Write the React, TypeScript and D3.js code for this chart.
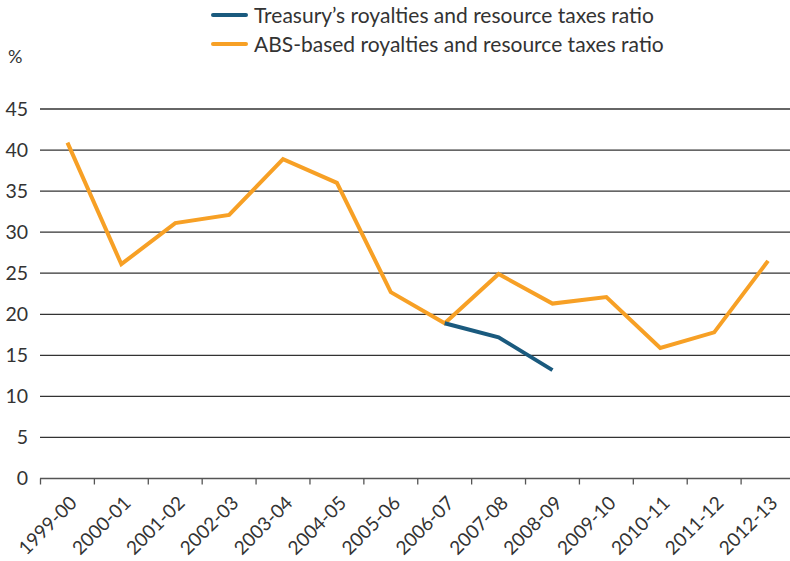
import React, { useEffect, useRef } from "react"
import * as d3 from "d3"

const years = ["1999-00", "2000-01", "2001-02", "2002-03", "2003-04", "2004-05", "2005-06",
    "2006-07", "2007-08", "2008-09", "2009-10", "2010-11", "2011-12", "2012-13"]
const absRatio = [40.9, 26.1, 31.1, 32.1, 38.9, 36.0, 22.7, 18.9, 24.9, 21.3, 22.1, 15.9, 17.8, 26.5]
const treasuryYears = ["2006-07", "2007-08", "2008-09"]
const treasuryRatio = [18.9, 17.2, 13.2]
const yTicks = [0, 5, 10, 15, 20, 25, 30, 35, 40, 45]

const ORANGE = "#F7A025"
const BLUE = "#1A5A7E"

export default function App() {
    const ref = useRef<SVGSVGElement>(null)

    useEffect(() => {
        const svg = d3.select(ref.current)
        svg.selectAll("*").remove()
        const font = "Lato, 'Open Sans', sans-serif"

        const x = d3.scaleBand().domain(years).range([40.5, 795])
        const y = d3.scaleLinear().domain([0, 45]).range([478.5, 109])
        const cx = (d: string) => (x(d) as number) + x.bandwidth() / 2

        // gridlines
        svg.append("g").selectAll("line")
            .data(yTicks.filter(t => t > 0))
            .enter().append("line")
            .attr("x1", 40).attr("x2", 790)
            .attr("y1", d => y(d)).attr("y2", d => y(d))
            .attr("stroke", "#333").attr("stroke-width", 1.3)

        // y labels
        svg.append("g").selectAll("text")
            .data(yTicks)
            .enter().append("text")
            .attr("x", 28).attr("y", d => y(d))
            .attr("dy", "0.35em")
            .attr("text-anchor", "end")
            .attr("font-family", font).attr("font-size", 19.5)
            .attr("fill", "#333")
            .text(d => d)

        svg.append("text")
            .attr("x", 8).attr("y", 63)
            .attr("font-family", font).attr("font-size", 18).attr("fill", "#333")
            .text("%")

        // x axis
        const xAxis = svg.append("g")
        xAxis.append("line")
            .attr("x1", 40).attr("x2", 790)
            .attr("y1", y(0)).attr("y2", y(0))
            .attr("stroke", "#555").attr("stroke-width", 1.5)
        xAxis.selectAll(".tick")
            .data(years)
            .enter().append("line")
            .attr("x1", d => x(d) as number).attr("x2", d => x(d) as number)
            .attr("y1", y(0)).attr("y2", y(0) + 6)
            .attr("stroke", "#555").attr("stroke-width", 1.3)
        xAxis.selectAll("text")
            .data(years)
            .enter().append("text")
            .attr("transform", d => "translate(" + (cx(d) + 6) + "," + (y(0) + 21) + ") rotate(-45)")
            .attr("text-anchor", "end")
            .attr("dy", "0.35em")
            .attr("font-family", font).attr("font-size", 19)
            .attr("fill", "#333")
            .text(d => d)

        const line = d3.line<[string, number]>()
            .x(d => cx(d[0]))
            .y(d => y(d[1]))

        svg.append("path")
            .attr("d", line(years.map((d, i) => [d, absRatio[i]] as [string, number])))
            .attr("fill", "none").attr("stroke", ORANGE).attr("stroke-width", 4)
            .attr("stroke-linejoin", "miter")

        svg.append("path")
            .attr("d", line(treasuryYears.map((d, i) => [d, treasuryRatio[i]] as [string, number])))
            .attr("fill", "none").attr("stroke", BLUE).attr("stroke-width", 4)

        // legend
        const legend = [["Treasury\u2019s royalties and resource taxes ratio", BLUE],
            ["ABS-based royalties and resource taxes ratio", ORANGE]]
        legend.forEach((l, i) => {
            const ly = 15 + i * 29
            svg.append("line")
                .attr("x1", 213).attr("x2", 246)
                .attr("y1", ly).attr("y2", ly)
                .attr("stroke", l[1]).attr("stroke-width", 4).attr("stroke-linecap", "round")
            svg.append("text")
                .attr("x", 254).attr("y", ly)
                .attr("dy", "0.36em")
                .attr("font-family", font).attr("font-size", 21)
                .attr("fill", "#333")
                .text(l[0])
        })
    }, [])

    return (
        <svg ref={ref} width={790} height={561}
             style={{ position: "absolute", left: 0, top: 0, overflow: "hidden" }}/>
    )
}
